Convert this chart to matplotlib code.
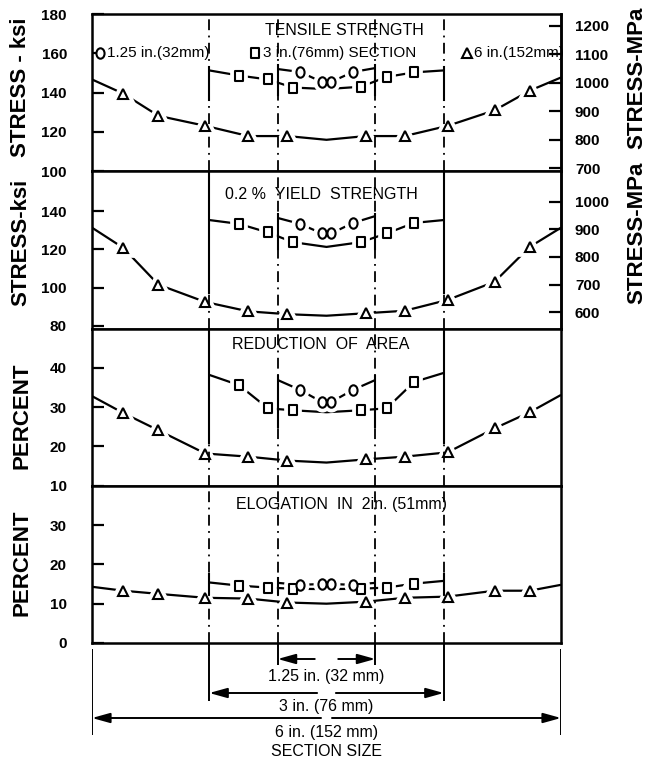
import numpy as np
import matplotlib
matplotlib.use("Agg")
import matplotlib.pyplot as plt
from matplotlib.path import Path
from matplotlib.transforms import Affine2D

# ---------------------------------------------------------------------------
# Data: position across the 6 in. section (inches from centre line)
# ---------------------------------------------------------------------------
SIX_X = [-3.0, -2.6, -2.15, -1.55, -1.0, -0.5, 0.0, 0.5, 1.0, 1.55, 2.15, 2.6, 3.0]
SIX_MARK = [False, True, True, True, True, True, False, True, True, True, True, True, False]
THREE_X = [-1.5, -1.12, -0.75, -0.43, 0.0, 0.44, 0.77, 1.12, 1.5]
THREE_MARK = [False, True, True, True, False, True, True, True, False]
ONE_X = [-0.625, -0.34, -0.06, 0.06, 0.34, 0.625]
ONE_MARK = [False, True, True, True, True, False]

# tensile strength, ksi
TS_6 = [146.7, 139.5, 128.2, 123.1, 117.9, 117.9, 116.0, 117.9, 117.9, 123.1, 131.0, 141.0, 147.7]
TS_3 = [151.3, 148.7, 146.7, 142.6, 141.8, 143.0, 148.0, 150.3, 151.3]
TS_1 = [152.0, 150.5, 145.5, 145.5, 150.5, 152.5]

# 0.2 % yield strength, ksi
YS_6 = [131.4, 120.8, 101.5, 92.4, 87.5, 86.0, 85.2, 86.5, 87.8, 93.5, 103.0, 121.3, 131.4]
YS_3 = [135.4, 133.4, 128.9, 123.8, 121.3, 123.8, 128.4, 133.9, 135.4]
YS_1 = [136.5, 133.4, 128.4, 128.4, 133.9, 137.5]

# reduction of area, percent
RA_6 = [32.8, 28.5, 24.1, 18.2, 17.4, 16.4, 15.9, 16.7, 17.4, 18.5, 24.6, 28.7, 33.1]
RA_3 = [38.2, 35.6, 29.7, 29.2, 28.7, 29.2, 29.7, 36.4, 38.7]
RA_1 = [36.9, 34.4, 31.3, 31.3, 34.4, 36.9]

# elongation in 2 in., percent
EL_6 = [14.3, 13.3, 12.5, 11.5, 11.3, 10.3, 10.0, 10.5, 11.5, 11.8, 13.3, 13.3, 14.8]
EL_3 = [15.4, 14.6, 14.1, 13.8, 13.7, 13.8, 14.1, 15.1, 15.8]
EL_1 = [15.3, 14.8, 15.0, 15.0, 14.8, 15.3]

SECTION_WIDTHS = [1.25, 3.0, 6.0]
SECTION_LABELS = ["1.25 in. (32 mm)", "3 in. (76 mm)", "6 in. (152 mm)"]

TITLES = ["TENSILE STRENGTH", "0.2 %  YIELD  STRENGTH",
          "REDUCTION  OF  AREA", "ELOGATION  IN  2in. (51mm)"]
YLABELS = ["STRESS - ksi", "STRESS-ksi", "PERCENT", "PERCENT"]
YLIMS = [(100, 180), (78.5, 161), (10, 50), (0, 40)]
YTICKS = [[100, 120, 140, 160, 180], [80, 100, 120, 140], [10, 20, 30, 40], [0, 10, 20, 30]]
MPA_TICKS = [[700, 800, 900, 1000, 1100, 1200], [600, 700, 800, 900, 1000]]

PANELS = [(TS_6, TS_3, TS_1), (YS_6, YS_3, YS_1), (RA_6, RA_3, RA_1), (EL_6, EL_3, EL_1)]

# solid stretches of the section boundary lines (value ranges per panel)
EDGE3_SOLID = [(153, 136), (161, 97), (50, 21), (17.5, 12.5)]
EDGE1_SOLID = [(154, 139), (138.5, 120), (38, 25), (16.5, 12.5)]

# ---------------------------------------------------------------------------
W, H, DPI = 646, 763, 100
L, R = 92, 561
TOP, BOT = 14, 643
plt.rcParams["font.family"] = ["Liberation Sans", "DejaVu Sans"]

ELLIPSE = Affine2D().scale(0.78, 1.0).transform_path(Path.unit_circle())
RECT = Affine2D().translate(-0.5, -0.5).scale(0.82, 1.0).transform_path(Path.unit_rectangle())
MARKERS = {"six": ("^", 7.5), "three": (RECT, 7.0), "one": (ELLIPSE, 7.5)}

DASHDOT = (0, (6, 3, 1, 3))


def ksi_to_mpa(v):
    return np.asarray(v) * 6.894757


def mpa_to_ksi(v):
    return np.asarray(v) / 6.894757


def draw_series(ax, xs, ys, marks, key):
    marker, ms = MARKERS[key]
    ax.plot(xs, ys, color="black", lw=1.6, zorder=2, solid_capstyle="butt")
    mx = [x for x, m in zip(xs, marks) if m]
    my = [y for y, m in zip(ys, marks) if m]
    ax.plot(mx, my, ls="none", marker=marker, ms=ms, mfc="white", mec="white",
            mew=7, zorder=3)
    ax.plot(mx, my, ls="none", marker=marker, ms=ms, mfc="white", mec="black",
            mew=1.5, zorder=5)


fig = plt.figure(figsize=(W / DPI, H / DPI), dpi=DPI)
panel_h = (BOT - TOP) / 4
axes = []
for i in range(4):
    y0 = TOP + i * panel_h
    ax = fig.add_axes([L / W, 1 - (y0 + panel_h) / H, (R - L) / W, panel_h / H])
    axes.append(ax)

half_one = SECTION_WIDTHS[0] / 2
half_three = SECTION_WIDTHS[1] / 2

for i, ax in enumerate(axes):
    six, three, one = PANELS[i]
    lo, hi = YLIMS[i]
    ax.set_xlim(-3, 3)
    ax.set_ylim(lo, hi)
    ax.set_xticks([])
    ax.set_yticks(YTICKS[i], labels=[str(t) for t in YTICKS[i]], fontweight="bold")
    ax.tick_params(axis="y", direction="in", length=8.5, width=1.6, pad=18,
                   labelsize=11, right=False)
    for sp in ax.spines.values():
        sp.set_linewidth(1.8)

    # section boundaries
    for xv in (-half_three, -half_one, half_one, half_three):
        ax.axvline(xv, color="black", lw=1.3, ls=DASHDOT, zorder=4)
    for s in (-1, 1):
        ax.plot([s * half_three] * 2, EDGE3_SOLID[i], color="black", lw=1.5, zorder=4)
        ax.plot([s * half_one] * 2, EDGE1_SOLID[i], color="black", lw=1.5, zorder=4)

    draw_series(ax, SIX_X, six, SIX_MARK, "six")
    draw_series(ax, THREE_X, three, THREE_MARK, "three")
    draw_series(ax, ONE_X, one, ONE_MARK, "one")

    if i < 2:
        sec = ax.secondary_yaxis("right", functions=(ksi_to_mpa, mpa_to_ksi))
        sec.set_yticks(MPA_TICKS[i], labels=[str(t) for t in MPA_TICKS[i]],
                       fontweight="bold")
        sec.tick_params(direction="in", length=8.5, width=1.6, pad=10, labelsize=11)
        sec.spines["right"].set_linewidth(1.8)

title_pos = [(0.538, 0.897), (0.490, 0.853), (0.487, 0.898), (0.533, 0.88)]
for ax, t, (tx, ty) in zip(axes, TITLES, title_pos):
    ax.text(tx, ty, t, transform=ax.transAxes, ha="center", va="center",
            fontsize=11.5, zorder=6)

# key to the section symbols
ax1 = axes[0]
key_items = [("one", 0.017, 0.032, "1.25 in.(32mm)"),
             ("three", 0.348, 0.365, "3 in.(76mm) SECTION"),
             ("six", 0.800, 0.815, "6 in.(152mm)")]
for key, mx, tx, label in key_items:
    marker, ms = MARKERS[key]
    ax1.plot([mx], [0.752], transform=ax1.transAxes, ls="none", marker=marker,
             ms=ms, mfc="white", mec="black", mew=1.5, clip_on=False, zorder=6)
    ax1.text(tx, 0.752, label, transform=ax1.transAxes, ha="left", va="center",
             fontsize=11, zorder=6)

# axis titles
left_labels = [(21, 87.5), (21, 242), (22, 416), (22, 563)]
for (x, y), lab in zip(left_labels, YLABELS):
    fig.text(x / W, 1 - y / H, lab, rotation=90, ha="center", va="center",
             fontsize=16, fontweight="bold")
for y in (78, 233):
    fig.text(637 / W, 1 - y / H, "STRESS-MPa", rotation=90, ha="center",
             va="center", fontsize=16, fontweight="bold")

# section size dimensions below the chart
axd = fig.add_axes([L / W, 0, (R - L) / W, (H - BOT) / H])
axd.set_xlim(-3, 3)
axd.set_ylim(H - BOT, 0)
axd.axis("off")

ext_spans = [(0, 22), (0, 58), (6, 92)]
arrow_y = [16, 50, 75]
text_y = [33, 63, 89]
gaps = [0.15, 0.12, 0.07]
for w, lab, (ya, yb), ay, ty, g in zip(SECTION_WIDTHS, SECTION_LABELS, ext_spans,
                                       arrow_y, text_y, gaps):
    half = w / 2
    axd.vlines([-half, half], ya, yb, color="black", lw=1.4)
    for s in (-1, 1):
        axd.annotate("", xy=(s * half, ay), xytext=(s * g, ay),
                     arrowprops=dict(arrowstyle="-|>,head_length=0.9,head_width=0.25",
                                     color="black", lw=1.4, shrinkA=0, shrinkB=0,
                                     mutation_scale=12))
    axd.text(0, ty, lab, ha="center", va="center", fontsize=11.5)
axd.text(0, 108, "SECTION SIZE", ha="center", va="center", fontsize=11.5)

fig.savefig("out.png", dpi=DPI)
